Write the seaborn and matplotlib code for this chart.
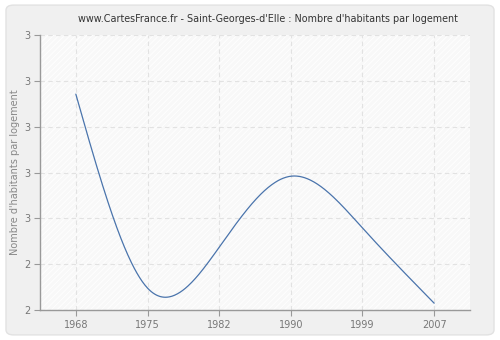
import numpy as np
import pandas as pd
import matplotlib
matplotlib.use("Agg")
import matplotlib.pyplot as plt
import seaborn as sns
from matplotlib.patches import FancyBboxPatch

years = ["1968", "1975", "1982", "1990", "1999", "2007"]
values = [2.771, 2.348, 2.437, 2.592, 2.479, 2.315]
ytick_values = [2.3, 2.4, 2.5, 2.6, 2.7, 2.8, 2.9]
ytick_labels = ["2", "2", "3", "3", "3", "3", "3"]
title = "www.CartesFrance.fr - Saint-Georges-d'Elle : Nombre d'habitants par logement"
ylabel = "Nombre d'habitants par logement"

sns.set_style("white")
plt.rcParams["font.family"] = ["DejaVu Sans"]
plt.rcParams["hatch.color"] = "#ffffff"
plt.rcParams["hatch.linewidth"] = 0.6


def natural_spline(x, y, n=400):
    x = np.asarray(x, float)
    y = np.asarray(y, float)
    k = len(x)
    h = np.diff(x)
    A = np.zeros((k, k))
    b = np.zeros(k)
    A[0, 0] = A[-1, -1] = 1
    for i in range(1, k - 1):
        A[i, i - 1] = h[i - 1]
        A[i, i] = 2 * (h[i - 1] + h[i])
        A[i, i + 1] = h[i]
        b[i] = 3 * ((y[i + 1] - y[i]) / h[i] - (y[i] - y[i - 1]) / h[i - 1])
    c = np.linalg.solve(A, b)
    xs = np.linspace(x[0], x[-1], n)
    ys = np.empty_like(xs)
    for j, xv in enumerate(xs):
        i = min(np.searchsorted(x, xv, side="right") - 1, k - 2)
        dx = xv - x[i]
        bi = (y[i + 1] - y[i]) / h[i] - h[i] * (2 * c[i] + c[i + 1]) / 3
        di = (c[i + 1] - c[i]) / (3 * h[i])
        ys[j] = y[i] + bi * dx + c[i] * dx ** 2 + di * dx ** 3
    return xs, ys


idx = np.arange(len(years))
xs, ys = natural_spline(idx, values)
curve = pd.DataFrame({"x": xs, "y": ys})

fig = plt.figure(figsize=(5.0, 3.4), dpi=100)
fig.patch.set_facecolor("#ffffff")
bg = FancyBboxPatch((0.012, 0.015), 0.976, 0.97, boxstyle="round,pad=0,rounding_size=0.015",
                    transform=fig.transFigure, facecolor="#f0f0f0", edgecolor="#e2e2e2",
                    linewidth=1.0, zorder=-10)
fig.patches.append(bg)

ax = fig.add_axes([0.08, 0.088, 0.86, 0.809])
ax.patch.set_facecolor("#f8f8f8")
ax.patch.set_hatch("//////")
ax.patch.set_edgecolor("#ffffff")

sns.lineplot(data=curve, x="x", y="y", ax=ax, color="#4a74ac", linewidth=0.9)

ax.set_xlim(-0.5, 5.5)
ax.set_ylim(2.3, 2.9)
ax.set_xticks(idx)
ax.set_xticklabels(years)
ax.set_yticks(ytick_values)
ax.set_yticklabels(ytick_labels)
ax.grid(True, color="#e2e2e2", linestyle=(0, (4, 3)), linewidth=0.8)
ax.set_axisbelow(True)
for s in ["top", "right"]:
    ax.spines[s].set_visible(False)
for s in ["left", "bottom"]:
    ax.spines[s].set_color("#999999")
    ax.spines[s].set_linewidth(1.0)
ax.tick_params(axis="both", which="both", direction="out", length=4, width=0.8,
               color="#999999", labelcolor="#777777", labelsize=7, pad=3)
ax.tick_params(left=True, bottom=True)
ax.set_xlabel("")
ax.set_ylabel(ylabel, fontsize=7, color="#888888", labelpad=3)
fig.text(0.535, 0.945, title, ha="center", va="center", fontsize=6.95, color="#333333")

fig.savefig("out.png", dpi=100, facecolor=fig.get_facecolor())
